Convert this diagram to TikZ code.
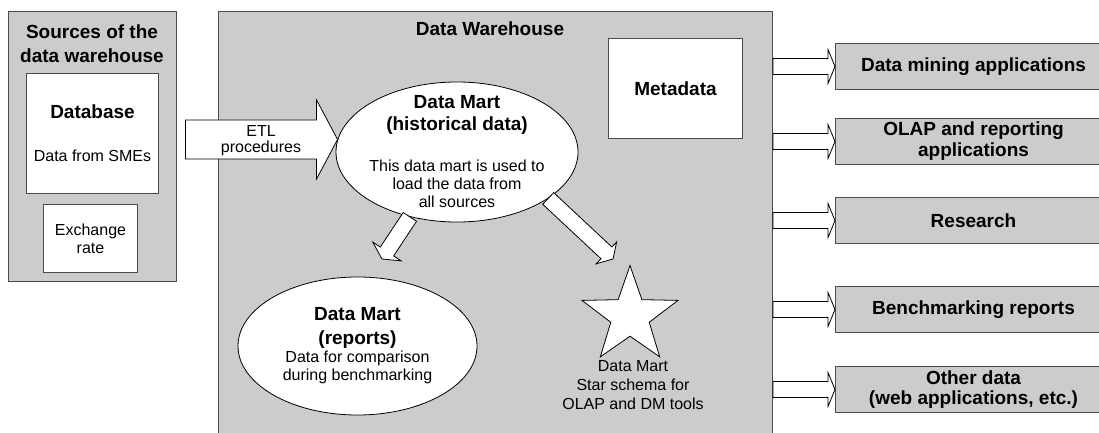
\documentclass[tikz,border=0pt]{standalone}
\usepackage{fontspec}
\setmainfont{Liberation Sans}
\usetikzlibrary{calc,shapes.geometric}
\definecolor{boxgray}{HTML}{CCCCCC}
\newcommand{\headtext}[1]{{\bfseries\fontsize{19}{22}\selectfont #1}}
% block arrow: tail, tip, shaft half width, head half width, head length
\newcommand{\fatarrow}[5]{%
\draw[fat] ($(#1)!#3!90:(#2)$) -- ($($(#2)!#5!(#1)$)!#3!90:(#2)$)
 -- ($($(#2)!#5!(#1)$)!#4!90:(#2)$) -- (#2)
 -- ($($(#2)!#5!(#1)$)!#4!-90:(#2)$) -- ($($(#2)!#5!(#1)$)!#3!-90:(#2)$)
 -- ($(#1)!#3!-90:(#2)$) -- cycle;}

\begin{document}
\begin{tikzpicture}[
x=1pt, y=-1pt,
box/.style={draw=black!70, line width=1pt, anchor=north west, inner sep=0},
graybox/.style={box, fill=boxgray},
whitebox/.style={box, fill=white},
title/.style={font=\bfseries\fontsize{19}{21}\selectfont, align=center},
body/.style={font=\fontsize{16}{18}\selectfont, align=center},
blob/.style={draw, fill=white, line width=0.8pt, inner sep=0},
fat/.style={draw, fill=white, line width=0.8pt}
]
\useasboundingbox (0,0) rectangle (1099,433);

% sources
\node[graybox, minimum width=168pt, minimum height=270pt] (sources) at (8,11) {};
\node[title, font=\bfseries\fontsize{19}{24}\selectfont] (sourcestitle) at (92,44) {Sources of the\\data warehouse};
\node[whitebox, body, minimum width=132pt, minimum height=120pt] (database) at (26,73) {\headtext{Database}\\[25pt]Data from SMEs};
\node[whitebox, body, minimum width=94pt, minimum height=68pt] (exchange) at (43,204) {Exchange\\rate};

% warehouse
\node[graybox, minimum width=554pt, minimum height=421.5pt] (dw) at (218,11) {};
\node[title] (dwtitle) at (490,29) {Data Warehouse};
\node[whitebox, title, minimum width=134pt, minimum height=100pt] (metadata) at (608,38) {Metadata};

\node[blob, ellipse, minimum width=242pt, minimum height=140pt] (hist) at (457,152) {};
\node[body] (histtext) at (hist.center) {\headtext{Data Mart}\\[4pt]\headtext{(historical data)}\\[23pt]This data mart is used to\\load the data from\\all sources};

\node[blob, ellipse, minimum width=239pt, minimum height=138pt] (reports) at (357.5,346) {};
\node[body] (reportstext) at (reports.center) {\headtext{Data Mart}\\[6pt]\headtext{(reports)}\\Data for comparison\\during benchmarking};

\node[blob, star, star points=5, star point ratio=2.5, minimum size=101pt] (dmstar) at (630,316) {};
\node[body, font=\fontsize{16}{19}\selectfont] (starlabel) at (633,385) {Data Mart\\Star schema for\\OLAP and DM tools};

% applications
\node[graybox, title, minimum width=276pt, minimum height=46pt] (app1) at (835,43) {Data mining applications};
\node[graybox, title, minimum width=276pt, minimum height=46pt] (app2) at (835,118) {OLAP and reporting\\applications};
\node[graybox, title, minimum width=276pt, minimum height=46pt] (app3) at (835,197) {Research};
\node[graybox, title, minimum width=276pt, minimum height=46pt] (app4) at (835,286) {Benchmarking reports};
\node[graybox, title, minimum width=276pt, minimum height=46pt, font=\bfseries\fontsize{19}{20}\selectfont] (app5) at (835,366) {Other data\\(web applications, etc.)};

% arrows
\path (hist.174) ++(-152,0) coordinate (etltail);
\fatarrow{etltail}{hist.174}{19.5pt}{39.5pt}{21pt}
\node[body, font=\fontsize{16}{16}\selectfont] (etl) at (261,141) {ETL\\procedures};

\coordinate (reptip) at (382,259);
\coordinate (startip) at (613,259);
\fatarrow{hist.234}{reptip}{8pt}{17pt}{9pt}
\fatarrow{hist.-27}{startip}{8pt}{15pt}{9pt}

\coordinate (dw1) at (dw.east |- app1.west);
\coordinate (dw2) at (dw.east |- app2.west);
\coordinate (dw3) at (dw.east |- app3.west);
\coordinate (dw4) at (dw.east |- app4.west);
\coordinate (dw5) at (dw.east |- app5.west);
\fatarrow{dw1}{app1.west}{8pt}{17pt}{7pt}
\fatarrow{dw2}{app2.west}{8pt}{17pt}{7pt}
\fatarrow{dw3}{app3.west}{8pt}{17pt}{7pt}
\fatarrow{dw4}{app4.west}{8pt}{17pt}{7pt}
\fatarrow{dw5}{app5.west}{8pt}{17pt}{7pt}

\end{tikzpicture}
\end{document}
